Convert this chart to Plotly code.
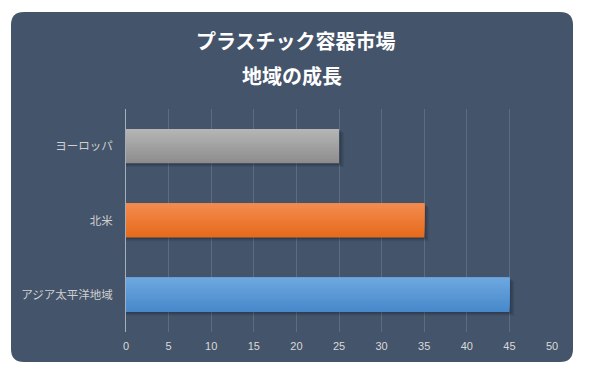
import plotly.graph_objects as go

# Data
categories = ["アジア太平洋地域", "北米", "ヨーロッパ"]
values = [45, 35, 25]
x_ticks = [0, 5, 10, 15, 20, 25, 30, 35, 40, 45, 50]
title_line1 = "プラスチック容器市場"
title_line2 = "地域の成長"

# Style (page body has an 8px margin, so the figure starts at page (8, 8))
OFF = 8
W, H = 594 - OFF, 375 - OFF
ML, MR, MT, MB = 126 - OFF, 42, 109 - OFF, 43
BG = "#44546A"
top_colors = [(111, 168, 224), (243, 139, 80), (182, 182, 182)]
bot_colors = [(70, 136, 202), (230, 106, 26), (140, 140, 140)]
BAR_W = 0.46
N_SLICES = 16

fig = go.Figure()

# soft shadows
for dx, dy, a in [(0.6, 0.05, 0.08), (0.42, 0.035, 0.12), (0.25, 0.02, 0.16)]:
    fig.add_trace(go.Bar(
        y=categories, x=[v + dx for v in values], orientation="h",
        width=BAR_W, offset=-BAR_W / 2 - dy,
        marker=dict(color=f"rgba(15,20,30,{a})", line=dict(width=0)),
        hoverinfo="skip", showlegend=False,
    ))

# gradient: each layer spans from its start to the top of the bar
sw = BAR_W / N_SLICES
for k in range(N_SLICES):
    t = (k + 0.5) / N_SLICES  # 0 bottom, 1 top
    cols = []
    for tc, bc in zip(top_colors, bot_colors):
        c = tuple(round(bc[i] + (tc[i] - bc[i]) * t) for i in range(3))
        cols.append("rgb(%d,%d,%d)" % c)
    fig.add_trace(go.Bar(
        y=categories, x=values, orientation="h",
        width=BAR_W - k * sw, offset=-BAR_W / 2 + k * sw,
        marker=dict(color=cols, line=dict(width=0)),
        hovertemplate="%{y}: %{x}<extra></extra>", showlegend=False,
    ))

# card background path in paper coords (given in page pixels)
pw = W - ML - MR
ph = H - MT - MB
def px(x): return (x - OFF - ML) / pw
def py(y): return (H - MB - (y - OFF)) / ph
x0, x1, y0, y1, r = 11, 573, 12, 362, 13
path = (f"M {px(x0 + r)} {py(y0)} L {px(x1 - r)} {py(y0)} "
        f"Q {px(x1)} {py(y0)} {px(x1)} {py(y0 + r)} "
        f"L {px(x1)} {py(y1 - r)} Q {px(x1)} {py(y1)} {px(x1 - r)} {py(y1)} "
        f"L {px(x0 + r)} {py(y1)} Q {px(x0)} {py(y1)} {px(x0)} {py(y1 - r)} "
        f"L {px(x0)} {py(y0 + r)} Q {px(x0)} {py(y0)} {px(x0 + r)} {py(y0)} Z")

fig.update_layout(
    width=W, height=H,
    margin=dict(l=ML, r=MR, t=MT, b=MB),
    paper_bgcolor="white", plot_bgcolor="rgba(0,0,0,0)",
    barmode="overlay", bargap=0.54,
    shapes=[dict(type="path", xref="paper", yref="paper", path=path,
                 fillcolor=BG, line=dict(width=0), layer="below")],
    annotations=[
        dict(text=title_line1, xref="paper", yref="paper", x=px(296), y=py(40),
             showarrow=False, xanchor="center", yanchor="middle",
             font=dict(family="Noto Sans CJK JP", size=20, color="white", weight="bold")),
        dict(text=title_line2, xref="paper", yref="paper", x=px(292), y=py(75),
             showarrow=False, xanchor="center", yanchor="middle",
             font=dict(family="Noto Sans CJK JP", size=20, color="white", weight="bold")),
    ],
    xaxis=dict(range=[0, 50], tickvals=x_ticks, ticktext=[str(v) for v in x_ticks],
               showgrid=True, gridcolor="#5D6C81", gridwidth=1, zeroline=False,
               showline=False, ticks="", ticklabelstandoff=6,
               tickfont=dict(family="Liberation Sans", size=11, color="#D9D9D9")),
    yaxis=dict(categoryorder="array", categoryarray=categories,
               showgrid=False, zeroline=False, showline=True, linecolor="#A6AEBB",
               linewidth=1, ticks="", ticklabelstandoff=10,
               tickfont=dict(family="Noto Sans CJK JP", size=11.5, color="#D0D0D0")),
)

fig.write_html("out.html")
